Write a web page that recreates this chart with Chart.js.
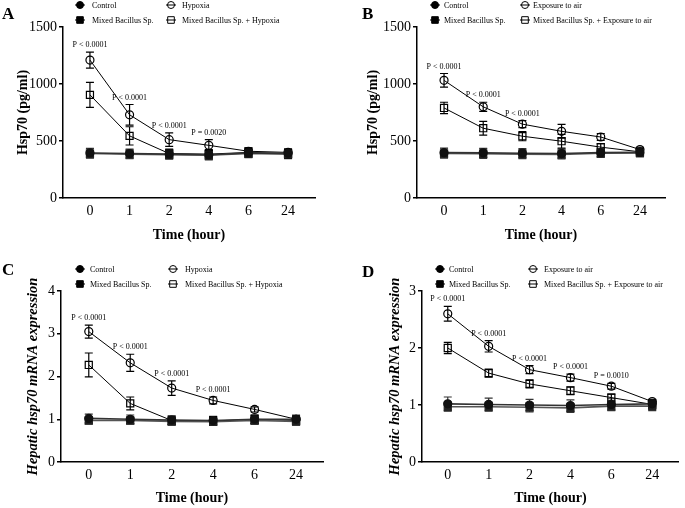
<!DOCTYPE html>
<html>
<head>
<meta charset="utf-8">
<script src="https://cdn.jsdelivr.net/npm/chart.js@4.4.1/dist/chart.umd.min.js"></script>
<style>
  body { margin: 0; background: #fff; width: 685px; height: 508px; position: relative; overflow: hidden; }
  canvas { position: absolute; }
</style>
</head>
<body>
<canvas id="cA" width="342" height="254" style="left:0;top:0"></canvas>
<canvas id="cB" width="343" height="254" style="left:342px;top:0"></canvas>
<canvas id="cC" width="342" height="258" style="left:0;top:250px"></canvas>
<canvas id="cD" width="343" height="258" style="left:342px;top:250px"></canvas>
<script>
const timeLabels = ["0", "1", "2", "4", "6", "24"];
const hypoxiaNames = ["Control", "Mixed Bacillus Sp.", "Hypoxia", "Mixed Bacillus Sp. + Hypoxia"];
const airNames = ["Control", "Mixed Bacillus Sp.", "Exposure to air", "Mixed Bacillus Sp. + Exposure to air"];

// A - Hsp70 (pg/ml), hypoxia
const aControl = [395, 390, 385, 380, 395, 392];
const aControlSd = [40, 40, 40, 40, 35, 35];
const aBacillus = [390, 385, 380, 375, 390, 385];
const aBacillusSd = [40, 40, 40, 40, 35, 40];
const aChallenge = [1210, 730, 512, 462, 410, 400];
const aChallengeSd = [70, 90, 60, 50, 30, 30];
const aMixed = [905, 545, 390, 385, 400, 390];
const aMixedSd = [110, 80, 40, 40, 40, 40];
const aPvalues = ["P < 0.0001", "P < 0.0001", "P < 0.0001", "P = 0.0020", "", ""];

// B - Hsp70 (pg/ml), exposure to air
const bControl = [398, 396, 393, 390, 398, 400];
const bControlSd = [40, 40, 40, 40, 35, 35];
const bBacillus = [390, 388, 385, 383, 392, 395];
const bBacillusSd = [40, 40, 40, 40, 35, 35];
const bChallenge = [1032, 800, 648, 585, 535, 425];
const bChallengeSd = [60, 40, 30, 60, 30, 20];
const bMixed = [790, 612, 542, 498, 446, 405];
const bMixedSd = [50, 60, 40, 60, 30, 20];
const bPvalues = ["P < 0.0001", "P < 0.0001", "P < 0.0001", "", "", ""];

// C - hepatic hsp70 mRNA, hypoxia
const cControl = [1.02, 1.0, 0.98, 0.97, 1.0, 1.0];
const cControlSd = [0.1, 0.1, 0.1, 0.1, 0.1, 0.1];
const cBacillus = [0.97, 0.97, 0.95, 0.94, 0.97, 0.95];
const cBacillusSd = [0.08, 0.08, 0.08, 0.08, 0.08, 0.08];
const cChallenge = [3.05, 2.32, 1.73, 1.44, 1.23, 1.0];
const cChallengeSd = [0.15, 0.2, 0.17, 0.08, 0.06, 0.08];
const cMixed = [2.27, 1.37, 0.97, 0.96, 1.0, 0.97];
const cMixedSd = [0.28, 0.15, 0.1, 0.1, 0.1, 0.1];
const cPvalues = ["P < 0.0001", "P < 0.0001", "P < 0.0001", "P < 0.0001", "", ""];

// D - hepatic hsp70 mRNA, exposure to air
const dControl = [1.02, 1.01, 1.0, 0.99, 1.01, 1.02];
const dControlSd = [0.12, 0.11, 0.1, 0.1, 0.1, 0.08];
const dBacillus = [0.97, 0.97, 0.96, 0.95, 0.98, 0.98];
const dBacillusSd = [0.08, 0.08, 0.08, 0.08, 0.08, 0.08];
const dChallenge = [2.6, 2.03, 1.62, 1.48, 1.33, 1.06];
const dChallengeSd = [0.13, 0.1, 0.07, 0.06, 0.05, 0.03];
const dMixed = [2.0, 1.56, 1.37, 1.25, 1.13, 1.01];
const dMixedSd = [0.1, 0.07, 0.07, 0.07, 0.06, 0.04];
const dPvalues = ["P < 0.0001", "P < 0.0001", "P < 0.0001", "P < 0.0001", "P = 0.0010", ""];

const FONT = "'Liberation Serif', 'Times New Roman', serif";
Chart.defaults.font.family = FONT;
Chart.defaults.color = "#000";

// marker / line looks for the 4 groups
const looks = [
  { shape: "circle", fill: "#111", stroke: "#111", r: 4, line: "#333", lw: 1.6 },
  { shape: "rect", fill: "#222", stroke: "#222", r: 5, line: "#555", lw: 1.6 },
  { shape: "circle", fill: "rgba(0,0,0,0)", stroke: "#000", r: 4, line: "#000", lw: 1 },
  { shape: "rect", fill: "rgba(0,0,0,0)", stroke: "#000", r: 5, line: "#000", lw: 1 },
];

function buildPanel(p) {
  const ctx = document.getElementById(p.id).getContext("2d");

  const extras = {
    id: "extras",
    beforeDatasetsDraw(chart) {
      // error bars
      const c = chart.ctx;
      const ys = chart.scales.y;
      c.save();
      chart.data.datasets.forEach((ds, k) => {
        const meta = chart.getDatasetMeta(k);
        c.strokeStyle = k < 2 ? "#333" : "#000";
        c.lineWidth = 1.2;
        meta.data.forEach((pt, i) => {
          const v = ds.data[i].y, e = ds.sd[i];
          const t = ys.getPixelForValue(v + e), b = ys.getPixelForValue(v - e);
          c.beginPath();
          c.moveTo(pt.x, t); c.lineTo(pt.x, b);
          c.moveTo(pt.x - 4, t); c.lineTo(pt.x + 4, t);
          c.moveTo(pt.x - 4, b); c.lineTo(pt.x + 4, b);
          c.stroke();
        });
      });
      c.restore();
    },
    afterDraw(chart) {
      const c = chart.ctx;
      const xs = chart.scales.x, ys = chart.scales.y;
      c.save();
      // p values
      c.font = "8px " + FONT;
      c.fillStyle = "#000";
      c.textAlign = "center";
      c.textBaseline = "middle";
      p.pvals.forEach((txt, i) => {
        if (!txt) return;
        let hi = 0;
        chart.data.datasets.forEach(ds => { hi = Math.max(hi, ds.data[i].y + ds.sd[i]); });
        c.fillText(txt, xs.getPixelForValue(i), ys.getPixelForValue(hi) - 7);
      });
      // legend
      const spots = [
        [p.leg.c1, p.leg.rows[0]], [p.leg.c1, p.leg.rows[1]],
        [p.leg.c2, p.leg.rows[0]], [p.leg.c2, p.leg.rows[1]],
      ];
      c.textAlign = "left";
      c.font = "8px " + FONT;
      p.names.forEach((name, k) => {
        const [[mx, tx], y] = spots[k];
        const lk = looks[k];
        c.strokeStyle = "#000";
        c.lineWidth = 1;
        c.beginPath(); c.moveTo(mx - 5, y); c.lineTo(mx + 5, y); c.stroke();
        c.beginPath();
        if (lk.shape === "circle") c.arc(mx, y, 3.5, 0, Math.PI * 2);
        else c.rect(mx - 3.3, y - 3.3, 6.6, 6.6);
        if (k < 2) { c.fillStyle = "#000"; c.fill(); }
        c.stroke();
        c.fillStyle = "#000";
        c.fillText(name, tx, y + 0.5);
      });
      // panel letter
      c.font = "bold 17px " + FONT;
      c.textBaseline = "alphabetic";
      c.fillText(p.letter, p.letterAt[0], p.letterAt[1]);
      c.restore();
    },
  };

  return new Chart(ctx, {
    type: "line",
    data: {
      datasets: p.series.map((s, k) => ({
        label: p.names[k],
        data: s.mean.map((v, i) => ({ x: i, y: v })),
        sd: s.sd,
        borderColor: looks[k].line,
        borderWidth: looks[k].lw,
        pointStyle: looks[k].shape,
        pointRadius: looks[k].r,
        pointBackgroundColor: looks[k].fill,
        pointBorderColor: looks[k].stroke,
        pointBorderWidth: 1.2,
        tension: 0,
        fill: false,
      })),
    },
    options: {
      responsive: false,
      animation: false,
      events: [],
      layout: { padding: { left: 0, top: p.area.t, right: p.w - p.area.r, bottom: 0 } },
      plugins: { legend: { display: false }, tooltip: { enabled: false } },
      scales: {
        x: {
          type: "linear",
          min: p.xr[0],
          max: p.xr[1],
          afterBuildTicks: s => { s.ticks = timeLabels.map((_, i) => ({ value: i })); },
          afterFit: s => { s.height = p.h - p.area.b; },
          grid: { display: false, drawTicks: false },
          border: { display: true, color: "#000", width: 1.5 },
          ticks: {
            callback: (v, i) => timeLabels[i],
            font: { size: 14 },
            color: "#000",
            padding: 5,
            maxRotation: 0,
            autoSkip: false,
          },
          title: {
            display: true,
            text: "Time (hour)",
            font: { size: 14, weight: "bold" },
            color: "#000",
            padding: { top: 0, bottom: p.h - p.xTitleY - 8.4 },
          },
        },
        y: {
          min: 0,
          max: p.yMax,
          afterFit: s => { s.width = p.area.l; },
          ticks: { stepSize: p.yStep, font: { size: 14 }, color: "#000", padding: 2, callback: v => String(v) },
          grid: { display: true, drawOnChartArea: false, drawTicks: true, tickLength: 4, color: "#000", lineWidth: 1.5 },
          border: { display: true, color: "#000", width: 1.5 },
          title: {
            display: true,
            text: p.yTitle,
            font: { size: p.yTitleSize, weight: "bold", style: p.italic ? "italic" : "normal" },
            color: "#000",
            padding: { top: p.yTitleX - p.yTitleSize * 0.6, bottom: 0 },
          },
        },
      },
    },
    plugins: [extras],
  });
}

buildPanel({
  id: "cA", letter: "A", letterAt: [2, 19], w: 342, h: 254,
  area: { l: 63, t: 27, r: 315, b: 198 }, xr: [-0.68, 5.68],
  yMax: 1500, yStep: 500, yTitle: "Hsp70 (pg/ml)", yTitleSize: 14, yTitleX: 23, italic: false,
  xTitleY: 235,
  leg: { c1: [80, 92], c2: [171, 182], rows: [5, 20] },
  names: hypoxiaNames, pvals: aPvalues,
  series: [
    { mean: aControl, sd: aControlSd }, { mean: aBacillus, sd: aBacillusSd },
    { mean: aChallenge, sd: aChallengeSd }, { mean: aMixed, sd: aMixedSd },
  ],
});

buildPanel({
  id: "cB", letter: "B", letterAt: [20, 19], w: 343, h: 254,
  area: { l: 75, t: 27, r: 323, b: 198 }, xr: [-0.69, 5.64],
  yMax: 1500, yStep: 500, yTitle: "Hsp70 (pg/ml)", yTitleSize: 14, yTitleX: 31, italic: false,
  xTitleY: 235,
  leg: { c1: [93, 102], c2: [183, 191], rows: [5, 20] },
  names: airNames, pvals: bPvalues,
  series: [
    { mean: bControl, sd: bControlSd }, { mean: bBacillus, sd: bBacillusSd },
    { mean: bChallenge, sd: bChallengeSd }, { mean: bMixed, sd: bMixedSd },
  ],
});

buildPanel({
  id: "cC", letter: "C", letterAt: [2, 25], w: 342, h: 258,
  area: { l: 61, t: 41, r: 323, b: 212 }, xr: [-0.67, 5.65],
  yMax: 4, yStep: 1, yTitle: "Hepatic hsp70 mRNA expression", yTitleSize: 14.5, yTitleX: 33, italic: true,
  xTitleY: 248,
  leg: { c1: [80, 90], c2: [173, 185], rows: [19, 34] },
  names: hypoxiaNames, pvals: cPvalues,
  series: [
    { mean: cControl, sd: cControlSd }, { mean: cBacillus, sd: cBacillusSd },
    { mean: cChallenge, sd: cChallengeSd }, { mean: cMixed, sd: cMixedSd },
  ],
});

buildPanel({
  id: "cD", letter: "D", letterAt: [20, 27], w: 343, h: 258,
  area: { l: 80, t: 41, r: 341, b: 212 }, xr: [-0.63, 5.65],
  yMax: 3, yStep: 1, yTitle: "Hepatic hsp70 mRNA expression", yTitleSize: 14.5, yTitleX: 53, italic: true,
  xTitleY: 248,
  leg: { c1: [98, 107], c2: [191, 202], rows: [19, 34] },
  names: airNames, pvals: dPvalues,
  series: [
    { mean: dControl, sd: dControlSd }, { mean: dBacillus, sd: dBacillusSd },
    { mean: dChallenge, sd: dChallengeSd }, { mean: dMixed, sd: dMixedSd },
  ],
});
</script>
</body>
</html>
